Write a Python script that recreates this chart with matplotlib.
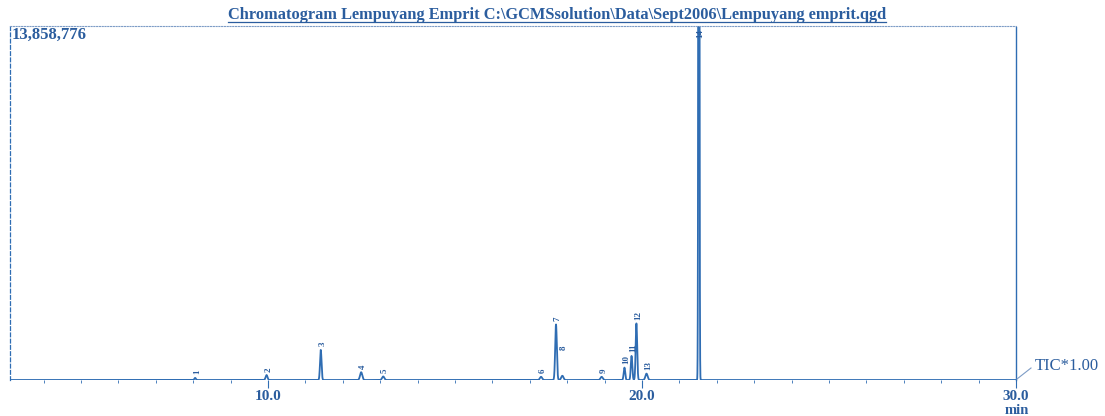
import numpy as np
import matplotlib
matplotlib.use("Agg")
import matplotlib.pyplot as plt
from matplotlib.lines import Line2D

# ---- data ----
peak_ids = ["1", "2", "3", "4", "5", "6", "7", "8", "9", "10", "11", "12", "13", "14"]
peak_rt = [8.05, 9.96, 11.41, 12.49, 13.08, 17.30, 17.70, 17.87, 18.92, 19.53, 19.72, 19.85, 20.12, 21.52]
peak_height = [0.006, 0.014, 0.085, 0.022, 0.010, 0.009, 0.157, 0.012, 0.009, 0.035, 0.068, 0.160, 0.018, 4.0]
label_level = [0.006, 0.014, 0.085, 0.022, 0.010, 0.009, 0.157, 0.075, 0.009, 0.035, 0.068, 0.160, 0.018, 0.955]
peak_width = [0.02, 0.025, 0.02, 0.03, 0.03, 0.03, 0.022, 0.03, 0.03, 0.02, 0.02, 0.02, 0.03, 0.012]
full_scale = 13858776
x_ticks = [10.0, 20.0, 30.0]
x_tick_labels = ["10.0", "20.0", "30.0"]
title = r"Chromatogram Lempuyang Emprit C:\GCMSsolution\Data\Sept2006\Lempuyang emprit.qgd"

blue = "#2f6db3"
text_blue = "#2b5d9e"
serif = ["Liberation Serif", "DejaVu Serif"]

t = np.linspace(3.1, 30.0, 12000)
sig = np.zeros_like(t)
for rt, h, w in zip(peak_rt, peak_height, peak_width):
    sig += h * np.exp(-0.5 * ((t - rt) / w) ** 2)

fig = plt.figure(figsize=(11.05, 4.16), dpi=100)
ax = fig.add_axes([10 / 1105, 1 - 380 / 416, (1016 - 10) / 1105, (380 - 26) / 416])
ax.plot(t, sig * full_scale, color=blue, lw=1.3, solid_joinstyle="round")
ax.set_xlim(3.1, 30.0)
ax.set_ylim(0, full_scale)

for name, rt, lv in zip(peak_ids, peak_rt, label_level):
    ax.text(rt + 0.05, lv * full_scale + 0.01 * full_scale, name, rotation=90,
            fontsize=6.5, color=text_blue, ha="center", va="bottom", family=serif,
            fontweight="bold")

ax.set_yticks([])
ax.set_xticks(x_ticks)
ax.set_xticklabels(x_tick_labels, family=serif, fontsize=11, fontweight="bold", color=text_blue)
ax.set_xticks(np.arange(4, 30, 1.0), minor=True)
ax.tick_params(axis="x", which="major", direction="out", length=6, width=0.8, color=blue, pad=1)
ax.tick_params(axis="x", which="minor", direction="out", length=2, width=0.6, color=blue)

ax.spines["bottom"].set_visible(False)
ax.spines["top"].set_linestyle((0, (1, 1.5)))
ax.spines["top"].set_color("#7d9cc6")
ax.spines["top"].set_linewidth(0.8)
ax.spines["left"].set_linestyle((0, (3, 2)))
ax.spines["left"].set_color(blue)
ax.spines["left"].set_linewidth(0.9)
ax.spines["right"].set_linestyle((0, (4, 1)))
ax.spines["right"].set_color(blue)
ax.spines["right"].set_linewidth(1.0)

ax.text(0.002, 0.997, "{:,}".format(full_scale), transform=ax.transAxes, ha="left", va="top",
        family=serif, fontsize=12, fontweight="bold", color=text_blue)

# title with underline
ttl = fig.text(557 / 1105, 1 - 15 / 416, title, ha="center", va="center", family=serif,
               fontsize=11.8, fontweight="bold", color=text_blue)
fig.canvas.draw()
bb = ttl.get_window_extent()
W, H = fig.bbox.width, fig.bbox.height
fig.add_artist(Line2D([bb.x0 / W, bb.x1 / W], [(bb.y0 + 1) / H, (bb.y0 + 1) / H],
                      color=text_blue, lw=0.9))

# TIC label with leader line
fig.text(1035 / 1105, 1 - 366 / 416, "TIC*1.00", ha="left", va="center", family=serif,
         fontsize=12, color=text_blue)
fig.add_artist(Line2D([1017 / 1105, 1031 / 1105], [1 - 379 / 416, 1 - 368 / 416], color="#7d9cc6", lw=0.8))
fig.text(1017 / 1105, 1 - 411 / 416, "min", ha="center", va="center", family=serif,
         fontsize=10.5, fontweight="bold", color=text_blue)

fig.savefig("out.png", dpi=100, facecolor="white")
